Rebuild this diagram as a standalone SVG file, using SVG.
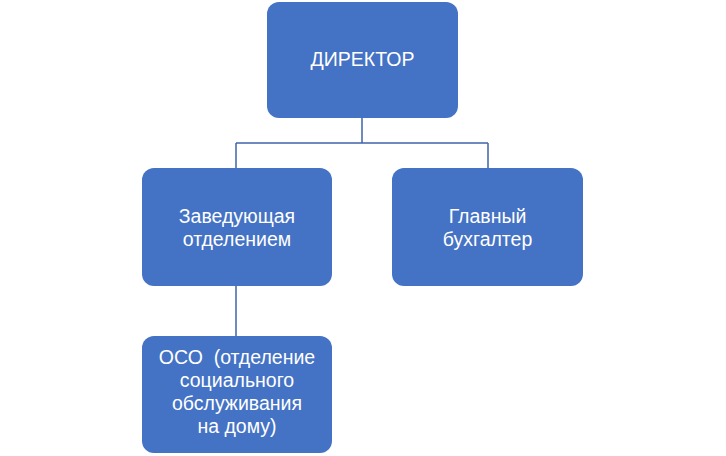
<svg xmlns="http://www.w3.org/2000/svg" width="726" height="456" viewBox="0 0 726 456">
<style>
.box{fill:#4472C4;}
.t{font-family:"Liberation Sans",Arial,sans-serif;font-size:19.5px;fill:#ffffff;text-anchor:middle;white-space:pre;}
.c{fill:none;stroke:#3F64AA;stroke-width:1.5;}
</style>
<rect width="726" height="456" fill="#ffffff"/>
<g id="connectors">
<path class="c" d="M362 118 V143 M236 143 H488 M236 143 V168 M488 143 V168 M236 286 V336"/>
</g>
<g id="director">
<rect class="box" x="267" y="2" width="191" height="116" rx="12"/>
<text class="t" x="362.5" y="66">ДИРЕКТОР</text>
</g>
<g id="head">
<rect class="box" x="142" y="168" width="190" height="118" rx="12"/>
<text class="t" x="237" y="223">Заведующая</text>
<text class="t" x="237" y="246">отделением</text>
</g>
<g id="accountant">
<rect class="box" x="392" y="168" width="191" height="118" rx="12"/>
<text class="t" x="487.5" y="223">Главный</text>
<text class="t" x="487.5" y="246">бухгалтер</text>
</g>
<g id="oso">
<rect class="box" x="142" y="336" width="190" height="117" rx="12"/>
<text class="t" x="237" y="364" xml:space="preserve">ОСО  (отделение</text>
<text class="t" x="237" y="387">социального</text>
<text class="t" x="237" y="410">обслуживания</text>
<text class="t" x="237" y="433">на дому)</text>
</g>
</svg>
